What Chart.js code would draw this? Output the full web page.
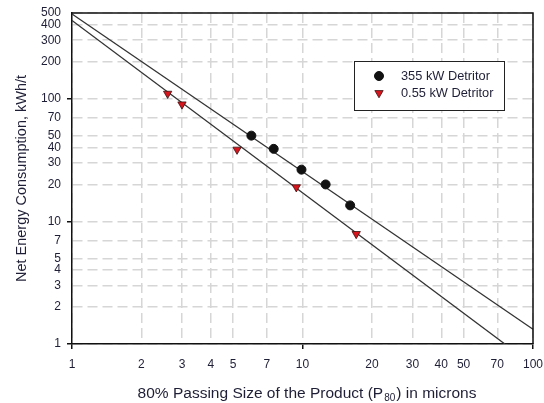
<!DOCTYPE html>
<html><head><meta charset="utf-8">
<script src="https://cdn.jsdelivr.net/npm/chart.js@4/dist/chart.umd.min.js"></script>
<style>html,body{margin:0;padding:0;background:#fff}#wrap{width:544px;height:403px}</style>
</head><body><div id="wrap"><canvas id="c" width="544" height="403"></canvas></div>
<script>
// Data
const bigX = [6.0, 7.5, 9.9, 12.6, 16.1];
const bigY = [50, 39, 26.4, 20, 13.5];
const smallX = [2.6, 3.0, 5.2, 9.4, 17.1];
const smallY = [110, 90, 38.5, 19, 7.9];
const bigFitX = [1, 100];
const bigFitY = [490, 1.32];
const smallFitX = [1, 75.5];
const smallFitY = [435, 1];
const xTicks = [1, 2, 3, 4, 5, 7, 10, 20, 30, 40, 50, 70, 100];
const yTicks = [1, 2, 3, 4, 5, 7, 10, 20, 30, 40, 50, 70, 100, 200, 300, 400, 500];
const seriesNames = ['355 kW Detritor', '0.55 kW Detritor'];
const xTitleMain = '80% Passing Size of the Product (P';
const xTitleSub = '80';
const xTitleEnd = ') in microns';
const yTitle = 'Net Energy Consumption, kWh/t';

const pts = (xs, ys) => xs.map((x, i) => ({x: x, y: ys[i]}));
const FONT = '"Liberation Sans", Arial, sans-serif';
const TXT = '#1e1e36';
const RED = '#d8141c';

const decade = v => [1, 10, 100].includes(v);

const boxPlugin = {
  id: 'box',
  afterDraw(chart) {
    const ctx = chart.ctx, a = chart.chartArea;
    ctx.save();
    ctx.strokeStyle = '#111';
    ctx.lineWidth = 1.5;
    ctx.beginPath();
    ctx.moveTo(a.left, a.top); ctx.lineTo(a.right, a.top); ctx.lineTo(a.right, a.bottom);
    ctx.stroke();
    // axis titles
    ctx.fillStyle = TXT;
    const mainFont = '15.5px ' + FONT;
    const subFont = '10px ' + FONT;
    ctx.font = mainFont;
    ctx.textBaseline = 'alphabetic';
    const w1 = ctx.measureText(xTitleMain).width;
    const w3 = ctx.measureText(xTitleEnd).width;
    ctx.font = subFont;
    const w2 = ctx.measureText(xTitleSub).width + 2;
    const total = w1 + w2 + w3;
    let x0 = 307 - total / 2;
    const by = 398;
    ctx.font = mainFont;
    ctx.textAlign = 'left';
    ctx.fillText(xTitleMain, x0, by);
    ctx.font = subFont;
    ctx.fillText(xTitleSub, x0 + w1 + 1, by + 3);
    ctx.font = mainFont;
    ctx.fillText(xTitleEnd, x0 + w1 + w2, by);
    // y title
    ctx.save();
    ctx.translate(26, 178.5);
    ctx.rotate(-Math.PI / 2);
    ctx.textAlign = 'center';
    ctx.font = '14.5px ' + FONT;
    ctx.fillText(yTitle, 0, 0);
    ctx.restore();
    // legend
    const lx = 354, ly = 61, lw = 150, lh = 49;
    ctx.fillStyle = '#fff';
    ctx.fillRect(lx, ly, lw, lh);
    ctx.strokeStyle = '#222';
    ctx.lineWidth = 1;
    ctx.strokeRect(lx + 0.5, ly + 0.5, lw, lh);
    const ds = chart.data.datasets;
    [0, 1].forEach((i, k) => {
      const d = ds[i];
      const cy = 76 + k * 17;
      ctx.fillStyle = d.backgroundColor;
      ctx.strokeStyle = d.borderColor;
      ctx.lineWidth = d.borderWidth;
      Chart.helpers.drawPoint(ctx, {pointStyle: d.pointStyle, radius: d.pointRadius, rotation: d.rotation || 0, borderWidth: d.borderWidth}, 379, cy);
      ctx.fillStyle = TXT;
      ctx.font = '12.8px ' + FONT;
      ctx.textAlign = 'left';
      ctx.textBaseline = 'middle';
      ctx.fillText(d.label, 401, cy);
    });
    ctx.restore();
  }
};

new Chart(document.getElementById('c'), {
  type: 'scatter',
  data: {
    datasets: [
      {label: seriesNames[0], data: pts(bigX, bigY), pointStyle: 'circle', pointRadius: 4.5,
       backgroundColor: '#111', borderColor: '#111', borderWidth: 1, order: 0},
      {label: seriesNames[1], data: pts(smallX, smallY), pointStyle: 'triangle', rotation: 180, pointRotation: 180,
       pointRadius: 4.8, backgroundColor: RED, borderColor: '#3a1010', borderWidth: 0.8, order: 0},
      {label: 'fit1', data: pts(bigFitX, bigFitY), showLine: true, pointRadius: 0, borderColor: '#333',
       borderWidth: 1.3, backgroundColor: '#333', order: 1},
      {label: 'fit2', data: pts(smallFitX, smallFitY), showLine: true, pointRadius: 0, borderColor: '#333',
       borderWidth: 1.3, backgroundColor: '#333', order: 1}
    ]
  },
  options: {
    responsive: false,
    animation: false,
    devicePixelRatio: 1,
    layout: {padding: {top: 13, right: 11, left: 0, bottom: 0}},
    plugins: {legend: {display: false}, tooltip: {enabled: false}},
    scales: {
      x: {
        type: 'logarithmic', min: 1, max: 100,
        afterBuildTicks: s => { s.ticks = xTicks.map(v => ({value: v})); },
        afterFit: s => { s.height = 59; s.paddingLeft = 0; s.paddingRight = 0; },
        ticks: {autoSkip: false, maxRotation: 0, color: TXT, font: {family: FONT, size: 12}, padding: 8,
                callback: v => String(v)},
        grid: {color: '#d6d6d6', lineWidth: 1.5, tickLength: 5, tickWidth: 1.5, tickBorderDash: [],
               tickColor: c => decade(c.tick && c.tick.value) ? '#111' : 'rgba(0,0,0,0)'},
        border: {color: '#111', width: 1.5, dash: [10, 5]},
        title: {display: false}
      },
      y: {
        type: 'logarithmic', min: 1, max: 500,
        afterBuildTicks: s => { s.ticks = yTicks.map(v => ({value: v})); },
        afterFit: s => { s.width = 72; s.paddingTop = 0; s.paddingBottom = 0; },
        ticks: {autoSkip: false, color: TXT, font: {family: FONT, size: 12}, padding: 6,
                callback: v => String(v)},
        grid: {color: '#d6d6d6', lineWidth: 1.5, tickLength: 5, tickWidth: 1.5, tickBorderDash: [],
               tickColor: c => decade(c.tick && c.tick.value) ? '#111' : 'rgba(0,0,0,0)'},
        border: {color: '#111', width: 1.5, dash: [10, 5]},
        title: {display: false}
      }
    }
  },
  plugins: [boxPlugin]
});
</script></body></html>
